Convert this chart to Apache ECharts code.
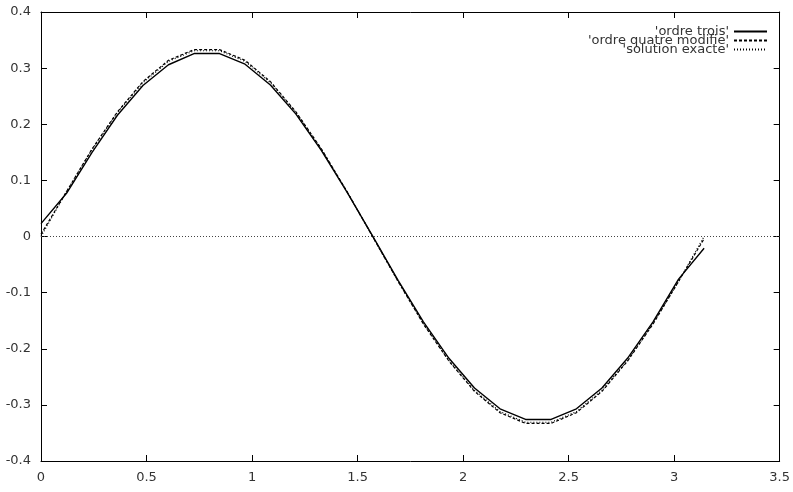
<!DOCTYPE html>
<html>
<head>
<meta charset="utf-8">
<script src="https://cdn.jsdelivr.net/npm/echarts@6/dist/echarts.min.js"></script>
<style>
  html, body { margin: 0; padding: 0; background: #fff; }
  #chart { width: 793px; height: 492px; }
</style>
</head>
<body>
<div id="chart"></div>
<script>
// abscisses (pas ~ pi/26)
var xs = [0, 0.121, 0.242, 0.362, 0.483, 0.604, 0.725, 0.846, 0.967, 1.087, 1.208, 1.329, 1.450, 1.571,
          1.692, 1.812, 1.933, 2.054, 2.175, 2.296, 2.417, 2.537, 2.658, 2.779, 2.900, 3.021, 3.142];
// 'ordre trois'
var ordreTrois = [0.023, 0.077, 0.150, 0.216, 0.269, 0.306, 0.326, 0.326, 0.307, 0.270, 0.218, 0.153, 0.079, 0.001,
                  -0.078, -0.152, -0.217, -0.270, -0.307, -0.326, -0.326, -0.307, -0.270, -0.217, -0.152, -0.076, -0.021];
// 'ordre quatre modifie'
var ordreQuatre = [0.004, 0.080, 0.156, 0.222, 0.276, 0.314, 0.333, 0.333, 0.314, 0.276, 0.222, 0.156, 0.080, 0.000,
                   -0.080, -0.156, -0.222, -0.276, -0.314, -0.333, -0.333, -0.314, -0.276, -0.222, -0.156, -0.080, -0.004];
// 'solution exacte'
var exacte = [0, 0.080, 0.155, 0.221, 0.274, 0.312, 0.331, 0.331, 0.312, 0.274, 0.221, 0.155, 0.080, 0,
              -0.080, -0.155, -0.221, -0.274, -0.312, -0.331, -0.331, -0.312, -0.274, -0.221, -0.155, -0.080, 0];
var names = ["'ordre trois'", "'ordre quatre modifie'", "'solution exacte'"];

function pairs(ys) {
    var out = [];
    for (var i = 0; i < xs.length; i++) {
        out.push([xs[i], ys[i]]);
    }
    return out;
}

var font = 'DejaVu Sans';
var labelStyle = { color: '#333', fontFamily: font, fontSize: 13 };
var axisLine = { show: true, onZero: false, lineStyle: { color: '#000', width: 1 } };
var tick = { show: true, inside: true, length: 6, lineStyle: { color: '#000', width: 1 } };

// legendes a la gnuplot : texte aligne a droite, trait a droite
var legends = [];
for (var i = 0; i < names.length; i++) {
    legends.push({
        data: [names[i]],
        right: 25,
        top: 25 + i * 9,
        padding: 0,
        align: 'right',
        itemWidth: 33,
        itemHeight: 10,
        selectedMode: false,
        itemStyle: { opacity: 0 },
        textStyle: { color: '#333', fontFamily: font, fontSize: 13, lineHeight: 10 }
    });
}

var chart = echarts.init(document.getElementById('chart'));
chart.setOption({
    animation: false,
    backgroundColor: '#fff',
    grid: { left: 41, right: 9, top: 12, bottom: 31, containLabel: false },
    legend: legends,
    xAxis: [{
        type: 'value', min: 0, max: 3.5, interval: 0.5, position: 'bottom',
        axisLine: axisLine, axisTick: tick, splitLine: { show: false },
        axisLabel: Object.assign({ margin: 10 }, labelStyle)
    }, {
        type: 'value', min: 0, max: 3.5, interval: 0.5, position: 'top',
        axisLine: axisLine, axisTick: tick, splitLine: { show: false },
        axisLabel: { show: false }
    }],
    yAxis: [{
        type: 'value', min: -0.4, max: 0.4, interval: 0.1, position: 'left',
        axisLine: axisLine, axisTick: tick, splitLine: { show: false },
        axisLabel: Object.assign({ margin: 10 }, labelStyle)
    }, {
        type: 'value', min: -0.4, max: 0.4, interval: 0.1, position: 'right',
        axisLine: axisLine, axisTick: tick, splitLine: { show: false },
        axisLabel: { show: false }
    }],
    series: [{
        name: names[0], type: 'line', data: pairs(ordreTrois), symbol: 'none',
        color: '#000', lineStyle: { color: '#000', width: 1.4, type: 'solid' }
    }, {
        name: names[1], type: 'line', data: pairs(ordreQuatre), symbol: 'none',
        color: '#000', lineStyle: { color: '#000', width: 1.2, type: [3, 2] }
    }, {
        name: names[2], type: 'line', data: pairs(exacte), symbol: 'none',
        color: '#000', lineStyle: { color: '#000', width: 1.2, type: [1, 2] },
        markLine: {
            silent: true, symbol: 'none', label: { show: false },
            lineStyle: { color: '#444', width: 1, type: [1, 2] },
            data: [{ yAxis: 0 }]
        }
    }]
});
</script>
</body>
</html>
